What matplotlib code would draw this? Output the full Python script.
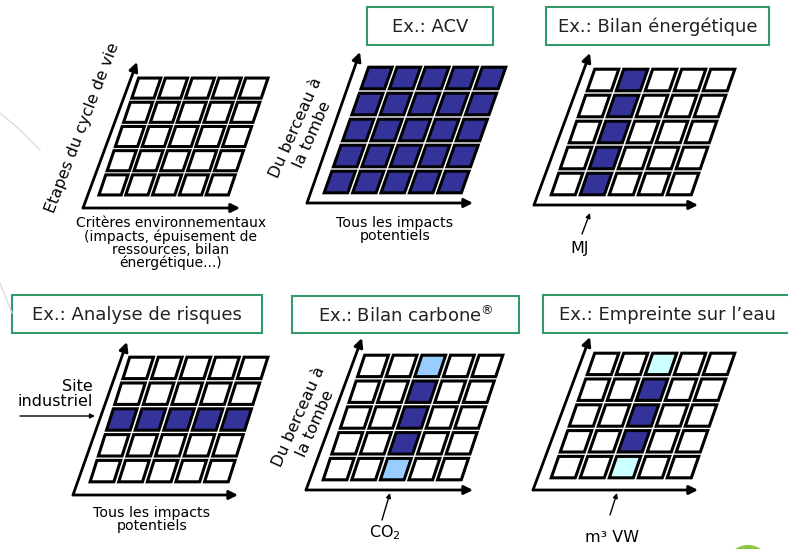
import matplotlib.pyplot as plt
import matplotlib.patches as patches
from matplotlib.transforms import Affine2D

# cell codes, rows listed top to bottom: "." empty, "D" dark blue, "L" light blue, "C" cyan
grid_generic = [".....", ".....", ".....", ".....", "....."]
grid_acv = ["DDDDD", "DDDDD", "DDDDD", "DDDDD", "DDDDD"]
grid_energie = [".D...", ".D...", ".D...", ".D...", ".D..."]
grid_risques = [".....", ".....", "DDDDD", ".....", "....."]
grid_carbone = ["..L..", "..D..", "..D..", "..D..", "..L.."]
grid_eau = ["..C..", "..D..", "..D..", "..D..", "..C.."]

titles = ["Ex.: ACV", "Ex.: Bilan énergétique", "Ex.: Analyse de risques",
          "Ex.: Bilan carbone$^{®}$", "Ex.: Empreinte sur l\u2019eau"]

cell_colors = {".": "white", "D": "#333399", "L": "#99ccff", "C": "#ccffff"}

fig = plt.figure(figsize=(7.88, 5.49), dpi=100)
ax = fig.add_axes([0, 0, 1, 1])
ax.set_xlim(0, 788)
ax.set_ylim(549, 0)
ax.axis('off')


def draw_grid(cells, x0, y0, w, h, shear):
    """5x5 skewed grid, (x0, y0) = bottom-left corner in pixels"""
    n = len(cells)
    m = len(cells[0])
    tr = Affine2D([[w / m, shear / n, x0], [0, -h / n, y0], [0, 0, 1]]) + ax.transData
    g = 0.085
    for r, row in enumerate(cells):
        j = n - 1 - r
        for i, code in enumerate(row):
            rect = patches.Rectangle((i + g, j + g), 1 - 2 * g, 1 - 2 * g,
                                     fc=cell_colors[code], ec="black", lw=2.2,
                                     transform=tr, joinstyle="miter")
            ax.add_patch(rect)


def draw_axes(origin, vtip, htip):
    for tip in (vtip, htip):
        ax.annotate("", xy=tip, xytext=origin,
                    arrowprops=dict(arrowstyle="-|>", lw=2, color="black",
                                    mutation_scale=13, shrinkA=0, shrinkB=0))


def pointer(tip, start):
    ax.annotate("", xy=tip, xytext=start,
                arrowprops=dict(arrowstyle="-|>", lw=1, color="black", mutation_scale=7,
                                shrinkA=0, shrinkB=0))


def title_box(x0, x1, y0, y1, text):
    ax.add_patch(patches.Rectangle((x0, y0), x1 - x0, y1 - y0, fc="white",
                                   ec="#339966", lw=1.5))
    ax.text((x0 + x1) / 2, (y0 + y1) / 2 + 1, text, ha="center", va="center",
            fontsize=13, color="#222222")


# faint decoration lines on the left
ax.plot([0, 18, 40], [113, 128, 150], color="#dddddd", lw=1)
ax.plot([0, 6, 12], [283, 298, 313], color="#dddddd", lw=1)
# green circle at bottom right
ax.add_patch(patches.Circle((748, 568), 23, fc="#8dc63f", ec="none"))

# Panel 1 - generic
draw_grid(grid_generic, 96, 197, 134, 121, 41)
draw_axes((83, 208), (137, 62), (240, 208))
ax.text(82, 128, "Etapes du cycle de vie", rotation=69, ha="center", va="center", fontsize=11.5)
ax.text(171, 216, "Critères environnementaux\n(impacts, épuisement de\nressources, bilan\nénergétique...)",
        ha="center", va="top", fontsize=10, linespacing=0.92)

# Panel 2 - ACV
title_box(367, 493, 7, 45, titles[0])
draw_grid(grid_acv, 321, 195, 142, 130, 46)
draw_axes((307, 203), (360, 52), (473, 203))
ax.text(304, 131, "Du berceau à\nla tombe", rotation=66, ha="center", va="center",
        fontsize=11.5, linespacing=1.25)
ax.text(395, 216, "Tous les impacts\npotentiels", ha="center", va="top", fontsize=10.2,
        linespacing=0.92)

# Panel 3 - Bilan energetique
title_box(546, 769, 7, 45, titles[1])
draw_grid(grid_energie, 548, 197, 145, 130, 45)
draw_axes((534, 205), (590, 53), (698, 205))
pointer((590, 213), (582, 234))
ax.text(580, 248, "MJ", ha="center", va="center", fontsize=11.5)

# Panel 4 - Analyse de risques
title_box(12, 262, 295, 333, titles[2])
draw_grid(grid_risques, 87, 484, 143, 129, 41)
draw_axes((73, 495), (127, 342), (238, 495))
ax.text(93, 394, "Site\nindustriel", ha="right", va="center", fontsize=11.5, linespacing=1.0)
pointer((95, 416), (20, 416))
ax.text(152, 506, "Tous les impacts\npotentiels", ha="center", va="top", fontsize=10.2,
        linespacing=0.92)

# Panel 5 - Bilan carbone
title_box(292, 519, 296, 333, titles[3])
draw_grid(grid_carbone, 320, 482, 143, 129, 43)
draw_axes((306, 490), (362, 338), (473, 490))
ax.text(307, 420, "Du berceau à\nla tombe", rotation=66, ha="center", va="center",
        fontsize=11.5, linespacing=1.25)
pointer((390, 493), (382, 520))
ax.text(385, 533, "CO$_2$", ha="center", va="center", fontsize=11.5)

# Panel 6 - Empreinte sur l'eau
title_box(543, 792, 295, 333, titles[4])
draw_grid(grid_eau, 548, 480, 145, 129, 45)
draw_axes((533, 490), (590, 337), (698, 490))
pointer((617, 493), (610, 515))
ax.text(612, 538, "m\u00b3 VW", ha="center", va="center", fontsize=11.5)

fig.savefig("out.png", dpi=100)
